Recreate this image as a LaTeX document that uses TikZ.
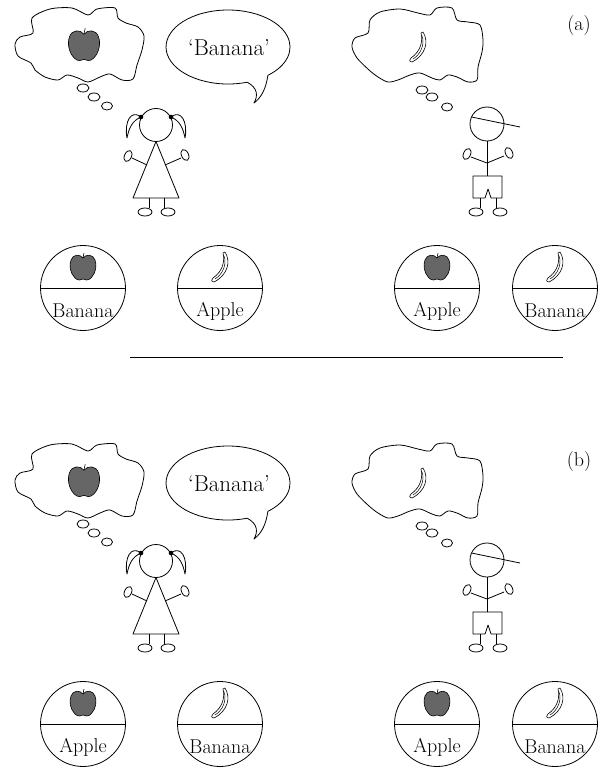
\documentclass[tikz,border=0pt]{standalone}
\usepackage{amsmath}
\usepackage{xcolor}

\begin{document}
\begin{tikzpicture}[x=1pt, y=-1pt, line width=0.8pt, line join=round,
    tag/.style={circle, draw, minimum size=85pt, inner sep=0pt},
    word/.style={font=\fontsize{20}{23}\selectfont},
    said/.style={font=\fontsize{23}{26}\selectfont},
    apple/.pic={
      \draw[fill=black!60, line width=0.6pt] (0,-9) .. controls (-3,-13) and (-10,-13) .. (-12,-7)
        .. controls (-14,-2) and (-13,6) .. (-8,11) .. controls (-5,14) and (-2,13) .. (0,12)
        .. controls (2,13) and (5,14) .. (8,11) .. controls (13,6) and (14,-2) .. (12,-7)
        .. controls (10,-13) and (3,-13) .. cycle;
      \draw[line width=0.6pt] (0,-9) -- (1,-14);
    },
    banana/.pic={
      \draw[fill=white, line width=0.6pt] (5,-15) .. controls (11,-6) and (8,8) .. (-6,15)
        .. controls (-9,15) and (-9,12) .. (-7,11) .. controls (3,4) and (5,-6) .. (3,-14) -- cycle;
      \draw[line width=0.5pt] (4,-11) .. controls (7,-3) and (3,7) .. (-5,12);
    }]
  \useasboundingbox (0,0) rectangle (614,778);

  \foreach \dy/\p/\one/\two in {0/a/Banana/Apple, 436/b/Apple/Banana}{
  \begin{scope}[shift={(0,\dy)}]
    % girl thinks of an apple
    \draw plot[smooth cycle] coordinates {(32,18) (50,9) (72,8) (88,15) (97,9) (115,8) (118,18)
      (126,23) (138,27) (144,36) (142,50) (137,65) (133,79) (122,80) (110,74) (100,77) (88,82)
      (78,78) (67,75) (58,80) (45,77) (35,70) (31,63) (18,56) (15,44) (20,37) (33,33)};
    \pic[scale=1.2] at (84,45) {apple};
    \draw (83,88) ellipse [x radius=6, y radius=4];
    \draw (94,97) ellipse [x radius=6, y radius=4];
    \draw (107,106) ellipse [x radius=5.5, y radius=4];

    % she says banana
    \draw (247.2,82.2) arc [start angle=72, end angle=410, x radius=62, y radius=37]
      .. controls (266,88) and (262,97) .. (254,103) .. controls (258,96) and (258,88) .. cycle;
    \node[said] (say\p) at (229,48) {`Banana'};

    % girl
    \draw (156,125) circle [radius=16.5];
    \draw (141,117) .. controls (131,109) and (124,122) .. (127,138) .. controls (129,128) and (132,121) .. (141,117);
    \draw (171,117) .. controls (181,109) and (188,122) .. (185,138) .. controls (183,128) and (180,121) .. (171,117);
    \fill (141,117) circle [radius=2.3];
    \fill (171,117) circle [radius=2.3];
    \draw (156,141.5) -- (133,198) -- (179,198) -- cycle;
    \draw (147,165) -- (132,158);
    \draw (165,165) -- (181,158);
    \draw[rotate around={-25:(128,156)}] (128,156) ellipse [x radius=3.5, y radius=5.8];
    \draw[rotate around={25:(185,155)}] (185,155) ellipse [x radius=3.5, y radius=5.8];
    \draw (149,198) -- (149,208);
    \draw (164,198) -- (164,208);
    \draw (145,212) ellipse [x radius=7, y radius=4];
    \draw (168,212) ellipse [x radius=7, y radius=4];

    % boy thinks of a banana
    \draw plot[smooth cycle] coordinates {(370,20) (380,12) (400,9) (418,13) (430,15) (437,8)
      (452,8) (457,20) (468,22) (480,25) (483,40) (482,52) (478,67) (477,80) (468,82) (457,77)
      (448,75) (440,80) (432,78) (420,73) (410,75) (398,80) (388,82) (378,77) (369,70) (357,58)
      (352,47) (355,38) (368,33)};
    \pic at (418,47) {banana};
    \draw (422,90) ellipse [x radius=6, y radius=4];
    \draw (432,97) ellipse [x radius=6, y radius=4];
    \draw (447,107) ellipse [x radius=5.5, y radius=4];

    % boy
    \draw (487,124) circle [radius=17];
    \draw (471.5,117) -- (520,127);
    \draw (487,141) -- (487,176);
    \draw (471,157) -- (487,163) -- (504,156);
    \draw[rotate around={-25:(467,154)}] (467,154) ellipse [x radius=3.5, y radius=5.8];
    \draw[rotate around={25:(509,153)}] (509,153) ellipse [x radius=3.5, y radius=5.8];
    \draw (473,176) -- (502,176) -- (502,198) -- (491,198) -- (488,189) -- (485,198) -- (473,198) -- cycle;
    \draw (480,198) -- (480,208);
    \draw (496,198) -- (496,208);
    \draw (476,212) ellipse [x radius=7, y radius=4];
    \draw (500,212) ellipse [x radius=7, y radius=4];

    \node[word] (lab\p) at (579,26) {(\p)};

    % labelled boxes
    \node[tag] (t1\p) at (83,288) {};
    \draw (t1\p.west) -- (t1\p.east);
    \pic at ([yshift=21pt]t1\p.center) {apple};
    \node[word] (w1\p) at ([yshift=-23pt]t1\p.center) {\one};

    \node[tag] (t2\p) at (220,288) {};
    \draw (t2\p.west) -- (t2\p.east);
    \pic at ([yshift=21pt]t2\p.center) {banana};
    \node[word] (w2\p) at ([yshift=-23pt]t2\p.center) {\two};

    \node[tag] (t3\p) at (437,288) {};
    \draw (t3\p.west) -- (t3\p.east);
    \pic at ([yshift=21pt]t3\p.center) {apple};
    \node[word] (w3\p) at ([yshift=-23pt]t3\p.center) {Apple};

    \node[tag] (t4\p) at (555,288) {};
    \draw (t4\p.west) -- (t4\p.east);
    \pic at ([yshift=21pt]t4\p.center) {banana};
    \node[word] (w4\p) at ([yshift=-23pt]t4\p.center) {Banana};
  \end{scope}
  }

  \draw (130,357) -- (563,357);
\end{tikzpicture}
\end{document}
